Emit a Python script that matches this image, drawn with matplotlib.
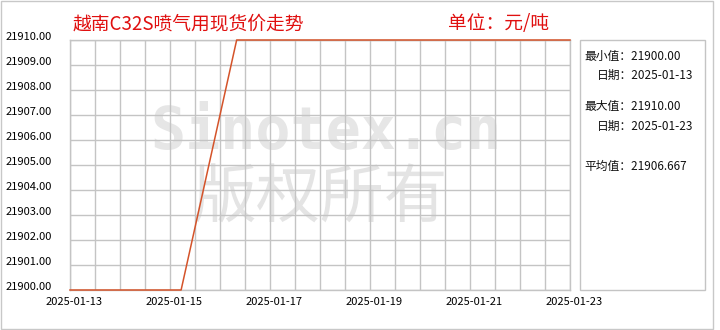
import numpy as np
import pandas as pd
import matplotlib
matplotlib.use('Agg')
import matplotlib.pyplot as plt
import matplotlib.dates as mdates
from matplotlib.patches import Rectangle
from matplotlib.transforms import ScaledTranslation

plt.rcParams['font.family'] = ['Noto Sans CJK SC', 'DejaVu Sans']

# Data
start_date = '2025-01-13'
end_date = '2025-01-23'
prices = [21900, 21900, 21900, 21910, 21910, 21910, 21910, 21910, 21910, 21910]
title = '越南C32S喷气用现货价走势'
unit = '单位：元/吨'
stats_labels = ['最小值：21900.00', '日期：2025-01-13',
                '最大值：21910.00', '日期：2025-01-23',
                '平均值：21906.667']

dates = pd.date_range(start_date, end_date, periods=len(prices))

W, H = 720, 330
fig = plt.figure(figsize=(W / 100, H / 100), dpi=100)

# outer border
fig.patches.append(Rectangle((1 / W, 1 / H), 712 / W, 328 / H, transform=fig.transFigure,
                             fill=False, edgecolor='#c8c8c8', linewidth=1))

ax = fig.add_axes([70 / W, 40 / H, 500 / W, 250 / H])
ax.plot(dates, prices, color='#d4532a', linewidth=1.1, zorder=3, clip_on=False)
ax.set_xlim(pd.Timestamp(start_date), pd.Timestamp(end_date))
ax.set_ylim(21900, 21910)

ax.xaxis.set_major_locator(mdates.DayLocator(interval=2))
ax.xaxis.set_major_formatter(mdates.DateFormatter('%Y-%m-%d'))
ax.xaxis.set_minor_locator(mdates.HourLocator(byhour=[0, 12]))
ax.set_yticks(np.arange(21900, 21911, 1))
ax.yaxis.set_major_formatter(matplotlib.ticker.FormatStrFormatter('%.2f'))

ax.set_axisbelow('line')
ax.grid(True, which='both', color='#c4c4c4', linewidth=1)
ax.tick_params(which='both', length=0)
ax.tick_params(axis='y', labelsize=8, pad=13)
ax.tick_params(axis='x', labelsize=8, pad=5)
for s in ax.spines.values():
    s.set_color('#c4c4c4')
    s.set_linewidth(1)
    s.set_zorder(2)

for lab in ax.get_yticklabels():
    lab.set_transform(lab.get_transform() + ScaledTranslation(0, 4 / 100, fig.dpi_scale_trans))
for lab in ax.get_xticklabels():
    lab.set_transform(lab.get_transform() + ScaledTranslation(4 / 100, 0, fig.dpi_scale_trans))

# watermark
ax.text(0.512, 0.632, 'Sinotex.cn', transform=ax.transAxes, ha='center', va='center',
        fontsize=42, fontweight='bold', family='DejaVu Sans Mono', color='#e6e6e6', zorder=1)
ax.text(0.5, 0.364, '版权所有', transform=ax.transAxes, ha='center', va='center',
        fontsize=46, color='#e4e4e4', zorder=1)

# titles
fig.text(73 / W, 1 - 24 / H, title, color='#e01010', fontsize=13.5, ha='left', va='center')
fig.text(448 / W, 1 - 24 / H, unit, color='#e01010', fontsize=13.5, ha='left', va='center')

# stats panel
fig.patches.append(Rectangle((580 / W, 40 / H), 125 / W, 250 / H, transform=fig.transFigure,
                             fill=False, edgecolor='#c4c4c4', linewidth=1))
stats_x = [584, 597, 584, 597, 584]
stats_y = [56, 75, 106, 126, 166]
for txt, x, y in zip(stats_labels, stats_x, stats_y):
    fig.text(x / W, 1 - y / H, txt, fontsize=8.5, ha='left', va='center', color='#111111')

fig.savefig('out.png', dpi=100)
